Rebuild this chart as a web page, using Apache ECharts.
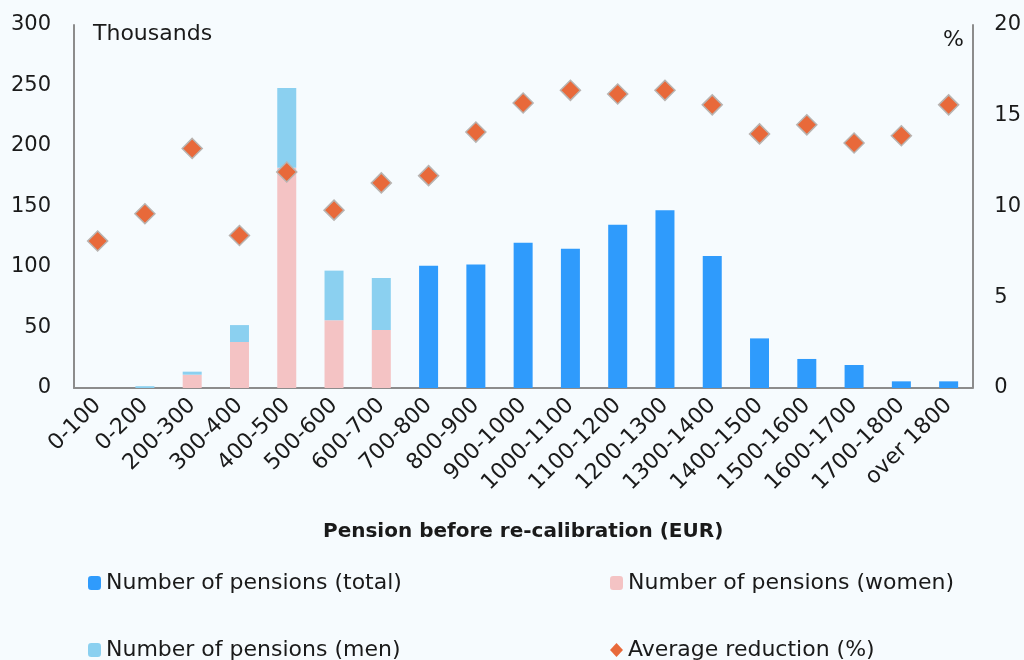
<!DOCTYPE html>
<html>
<head>
<meta charset="utf-8">
<script src="https://cdn.jsdelivr.net/npm/echarts@6/dist/echarts.min.js"></script>
<style>
  html, body { margin: 0; padding: 0; background: #f6fbfe; }
  #box { width: 1024px; height: 660px; }
</style>
</head>
<body>
<div id="box"></div>
<script>
// 数据
const categories = ['0-100', '0-200', '200-300', '300-400', '400-500', '500-600', '600-700',
  '700-800', '800-900', '900-1000', '1000-1100', '1100-1200', '1200-1300', '1300-1400',
  '1400-1500', '1500-1600', '1600-1700', '1700-1800', 'over 1800']
const women = [0, 0, 11, 38, 182, 56, 48, '-', '-', '-', '-', '-', '-', '-', '-', '-', '-', '-', '-']
const men = [0, 1.5, 2.5, 14, 66, 41, 43, '-', '-', '-', '-', '-', '-', '-', '-', '-', '-', '-', '-']
const total = ['-', '-', '-', '-', '-', '-', '-', 101, 102, 120, 115, 135, 147, 109, 41, 24, 19, 5.5, 5.5]
const reduction = [8.1, 9.6, 13.2, 8.4, 11.9, 9.8, 11.3, 11.7, 14.1, 15.7, 16.4, 16.2, 16.4, 15.6, 14.0, 14.5, 13.5, 13.9, 15.6]
const leftTicks = [0, 300, 50]
const rightTicks = [0, 20, 5]

const font = 'DejaVu Sans'
const axisColor = '#8c8c8c'
const txt = '#1a1a1a'

const myEcharts = echarts.init(document.getElementById('box'))
const legendStyle = { fontFamily: font, fontSize: 22, color: txt }
const legendBase = { itemWidth: 13, itemHeight: 14, itemStyle: { borderWidth: 0 }, textStyle: legendStyle }
const options = {
  backgroundColor: '#f6fbfe',
  textStyle: { fontFamily: font },
  grid: { left: 74, right: 49, top: 25, bottom: 272 },
  legend: [
    { ...legendBase, data: ['Number of pensions (total)'], left: 83, top: 567 },
    { ...legendBase, data: ['Number of pensions (women)'], left: 605, top: 567 },
    { ...legendBase, data: ['Number of pensions (men)'], left: 83, top: 634 },
    { ...legendBase, data: ['Average reduction (%)'], left: 605, top: 634 }
  ],
  graphic: [
    { type: 'text', left: 93, top: 23, style: { text: 'Thousands', font: '22px ' + font, fill: txt } },
    { type: 'text', left: 943, top: 29, style: { text: '%', font: '22px ' + font, fill: txt } }
  ],
  xAxis: {
    type: 'category',
    data: categories,
    axisLine: { lineStyle: { color: axisColor, width: 2 } },
    axisTick: { show: false },
    axisLabel: { rotate: 45, fontSize: 22, color: txt, margin: 14, interval: 0 },
    name: 'Pension before re-calibration (EUR)',
    nameLocation: 'middle',
    nameGap: 134,
    nameTextStyle: { fontSize: 20, fontWeight: 'bold', color: txt }
  },
  yAxis: [
    {
      type: 'value', min: leftTicks[0], max: leftTicks[1], interval: leftTicks[2],
      axisLine: { show: true, lineStyle: { color: axisColor, width: 2 } },
      axisTick: { show: false },
      splitLine: { show: false },
      axisLabel: { fontSize: 21, color: txt, margin: 23 }
    },
    {
      type: 'value', min: rightTicks[0], max: rightTicks[1], interval: rightTicks[2],
      axisLine: { show: true, lineStyle: { color: axisColor, width: 2 } },
      axisTick: { show: false },
      splitLine: { show: false },
      axisLabel: { fontSize: 21, color: txt, margin: 22 }
    }
  ],
  series: [
    {
      name: 'Number of pensions (total)', type: 'bar', stack: 'p', barWidth: 19,
      data: total,
      itemStyle: { color: '#2f9bfc' }
    },
    {
      name: 'Number of pensions (women)', type: 'bar', stack: 'p', barWidth: 19,
      data: women,
      itemStyle: { color: '#f4c3c4' }
    },
    {
      name: 'Number of pensions (men)', type: 'bar', stack: 'p', barWidth: 19,
      data: men,
      itemStyle: { color: '#8bd0f0' }
    },
    {
      name: 'Average reduction (%)', type: 'scatter', yAxisIndex: 1,
      symbol: 'diamond', symbolSize: 20,
      data: reduction,
      itemStyle: { color: '#e8693a', borderColor: '#b8b3b0', borderWidth: 1.5, opacity: 1 },
      z: 5
    }
  ]
}
myEcharts.setOption(options)
</script>
</body>
</html>
